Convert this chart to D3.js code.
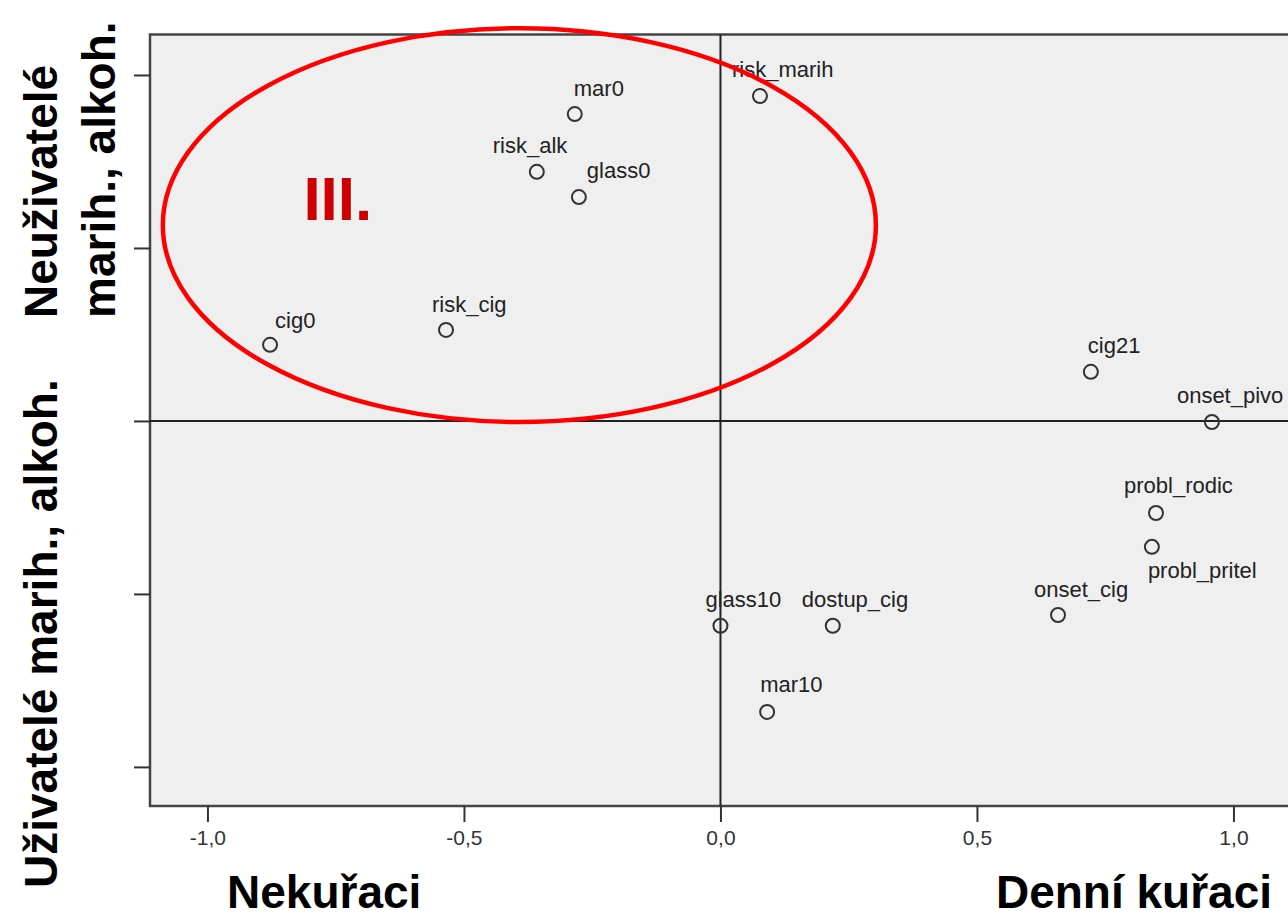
<!DOCTYPE html>
<html>
<head>
<meta charset="utf-8">
<script src="https://cdn.jsdelivr.net/npm/d3@7"></script>
<style>
  html, body { margin: 0; padding: 0; background: #ffffff; }
  svg { display: block; font-family: "Liberation Sans", Arial, sans-serif; }
</style>
</head>
<body>
<svg id="chart" width="1288" height="919"></svg>
<script>
// Category points of the correspondence map (dimension 1, dimension 2)
const categories = ["mar0", "risk_marih", "risk_alk", "glass0", "cig0", "risk_cig",
  "cig21", "onset_pivo", "probl_rodic", "probl_pritel", "onset_cig",
  "glass10", "dostup_cig", "mar10"];
const dim1 = [-0.284, 0.077, -0.358, -0.276, -0.878, -0.535,
  0.722, 0.958, 0.849, 0.841, 0.658,
  0.000, 0.219, 0.091];
const dim2 = [0.887, 0.939, 0.720, 0.647, 0.220, 0.263,
  0.142, -0.003, -0.266, -0.364, -0.561,
  -0.592, -0.592, -0.841];

const xTicks = [-1.0, -0.5, 0.0, 0.5, 1.0];
const yTicks = [-1.0, -0.5, 0.0, 0.5, 1.0];

// Group highlight (centre and radii in data units)
const groupLabel = "III.";
const groupCenter = [-0.392, 0.566];
const groupRadii = [0.695, 0.569];

const xTitleLeft = "Nekuřaci";
const xTitleRight = "Denní kuřaci";
const yTitleLow = "Uživatelé marih., alkoh.";
const yTitleHigh = ["Neuživatelé", "marih., alkoh."];

// Label placement relative to each point (px)
const labelShift = {
  "mar0": [-1, -18], "risk_marih": [-28, -19], "risk_alk": [-44, -19],
  "glass0": [8, -19], "cig0": [5, -17], "risk_cig": [-14, -18],
  "cig21": [-3, -19], "onset_pivo": [-35, -19], "probl_rodic": [-32, -20],
  "probl_pritel": [-4, 31], "onset_cig": [-24, -18], "glass10": [-15, -19],
  "dostup_cig": [-31, -19], "mar10": [-7, -20]
};

const points = categories.map((c, i) => ({ name: c, x: dim1[i], y: dim2[i] }));

const svg = d3.select("#chart");

const x = d3.scaleLinear().domain([-1.112, 1.15]).range([150, 150 + 2.262 * 513]);
const y = d3.scaleLinear().domain([-1.113, 1.117]).range([806, 34.5]);

const [x0, x1] = x.range();
const [yb, yt] = y.range();

// Plot background and frame
svg.append("rect")
  .attr("x", x0).attr("y", yt)
  .attr("width", x1 - x0).attr("height", yb - yt)
  .attr("fill", "#efefef")
  .attr("stroke", "#444").attr("stroke-width", 2.5);

// Axes
const fmt = d => d3.format(".1f")(d).replace(".", ",").replace("−", "-");
const xAxis = svg.append("g")
  .attr("transform", `translate(0,${yb})`)
  .call(d3.axisBottom(x).tickValues(xTicks).tickFormat(fmt).tickSize(16).tickSizeOuter(0).tickPadding(8));
xAxis.select(".domain").remove();
xAxis.selectAll(".tick line").attr("stroke", "#333").attr("stroke-width", 2);
xAxis.selectAll(".tick text")
  .attr("fill", "#333").attr("font-size", 21)
  .attr("font-family", "\"Liberation Sans\", Arial, sans-serif");

const yAxis = svg.append("g")
  .attr("transform", `translate(${x0},0)`)
  .call(d3.axisLeft(y).tickValues(yTicks).tickFormat("").tickSize(16).tickSizeOuter(0));
yAxis.select(".domain").remove();
yAxis.selectAll(".tick line").attr("stroke", "#333").attr("stroke-width", 2);

// Reference lines through the origin
svg.append("line")
  .attr("x1", x(0)).attr("x2", x(0)).attr("y1", yt).attr("y2", yb)
  .attr("stroke", "#222").attr("stroke-width", 2);
svg.append("line")
  .attr("x1", x0).attr("x2", x1).attr("y1", y(0)).attr("y2", y(0))
  .attr("stroke", "#222").attr("stroke-width", 2);

// Points
svg.append("g").selectAll("circle")
  .data(points).join("circle")
  .attr("cx", d => x(d.x)).attr("cy", d => y(d.y))
  .attr("r", 7)
  .attr("fill", "none").attr("stroke", "#333").attr("stroke-width", 2);

// Point labels
svg.append("g").selectAll("text")
  .data(points).join("text")
  .attr("x", d => x(d.x) + labelShift[d.name][0])
  .attr("y", d => y(d.y) + labelShift[d.name][1])
  .attr("font-size", 22).attr("fill", "#222")
  .text(d => d.name);

// Highlighted group
svg.append("ellipse")
  .attr("cx", x(groupCenter[0])).attr("cy", y(groupCenter[1]))
  .attr("rx", x(groupCenter[0] + groupRadii[0]) - x(groupCenter[0]))
  .attr("ry", y(groupCenter[1] - groupRadii[1]) - y(groupCenter[1]))
  .attr("fill", "none").attr("stroke", "#ff0000").attr("stroke-width", 4.5);

svg.append("text")
  .attr("x", x(-0.813)).attr("y", y(0.581))
  .attr("font-size", 62).attr("font-weight", "bold").attr("fill", "#cc0000")
  .text(groupLabel);

// Axis titles
svg.append("text")
  .attr("x", 227).attr("y", 908)
  .attr("font-size", 46).attr("font-weight", "bold").attr("fill", "#000")
  .text(xTitleLeft);
svg.append("text")
  .attr("x", 1272).attr("y", 908).attr("text-anchor", "end")
  .attr("font-size", 46).attr("font-weight", "bold").attr("fill", "#000")
  .text(xTitleRight);

svg.append("text")
  .attr("transform", "translate(57,888) rotate(-90)")
  .attr("font-size", 46).attr("font-weight", "bold").attr("fill", "#000")
  .text(yTitleLow);
svg.append("text")
  .attr("transform", "translate(57,318) rotate(-90)")
  .attr("font-size", 46).attr("font-weight", "bold").attr("fill", "#000")
  .text(yTitleHigh[0]);
svg.append("text")
  .attr("transform", "translate(115,318) rotate(-90)")
  .attr("font-size", 46).attr("font-weight", "bold").attr("fill", "#000")
  .text(yTitleHigh[1]);
</script>
</body>
</html>
